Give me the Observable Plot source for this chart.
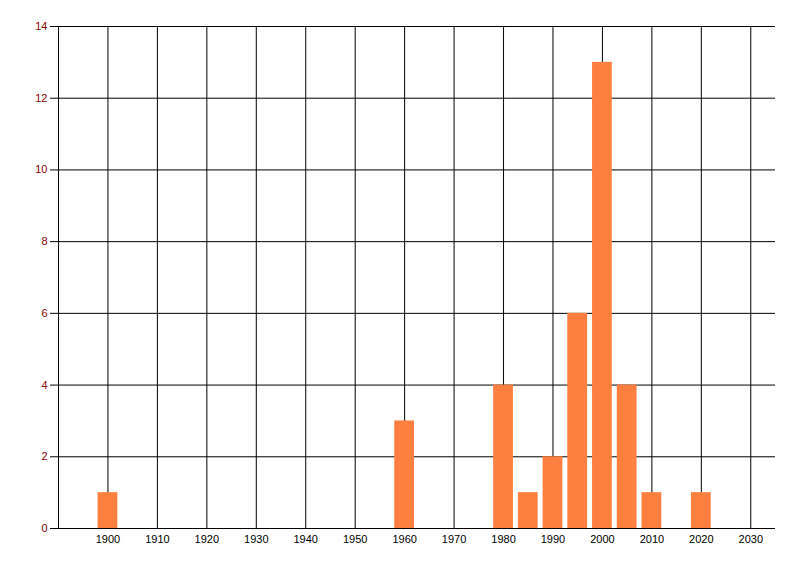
<!DOCTYPE html>
<html>
<head>
<meta charset="utf-8">
<script src="https://cdn.jsdelivr.net/npm/d3@7"></script>
<script src="https://cdn.jsdelivr.net/npm/@observablehq/plot@0.6"></script>
<style>
  html, body { margin: 0; padding: 0; background: #fff; }
  #chart svg { display: block; }
</style>
</head>
<body>
<div id="chart"></div>
<script>
// ---------- Data ----------
const years  = [1900, 1960, 1980, 1985, 1990, 1995, 2000, 2005, 2010, 2020];
const counts = [1, 3, 4, 1, 2, 6, 13, 4, 1, 1];
const xTicks = [1900, 1910, 1920, 1930, 1940, 1950, 1960, 1970, 1980, 1990, 2000, 2010, 2020, 2030];
const yTicks = [0, 2, 4, 6, 8, 10, 12, 14];

const rows = years.map((y, i) => ({year: y, count: counts[i]}));
const halfWidth = 2; // bar spans ±2 years

const chart = Plot.plot({
  width: 800, height: 576,
  marginLeft: 58, marginRight: 25, marginTop: 26, marginBottom: 48,
  style: {fontFamily: "'Liberation Sans', Arial, sans-serif", fontSize: "11px", background: "#fff"},
  x: {domain: [1890, 2035], axis: null},
  y: {domain: [0, 14], axis: null},
  marks: [
    // grid
    Plot.ruleX(xTicks, {stroke: "#000", strokeWidth: 1}),
    Plot.ruleY(yTicks, {stroke: "#000", strokeWidth: 1}),
    Plot.ruleX([1890], {stroke: "#000", strokeWidth: 1}),
    // bars
    Plot.rectY(rows, {
      x1: d => d.year - halfWidth, x2: d => d.year + halfWidth,
      y1: 0, y2: "count", fill: "#ff7f40"
    }),
    // y ticks (black marks) + red labels
    Plot.axisY({ticks: yTicks, tickSize: 8, stroke: "#000", tickFormat: () => "", label: null}),
    Plot.axisY({ticks: yTicks, tickSize: 0, tickPadding: 11, fill: "#8b0000", label: null}),
    // x labels
    Plot.axisX({ticks: xTicks, tickSize: 0, tickPadding: 7, tickFormat: "d", fill: "#000", label: null})
  ]
});
document.getElementById("chart").appendChild(chart);
</script>
</body>
</html>
